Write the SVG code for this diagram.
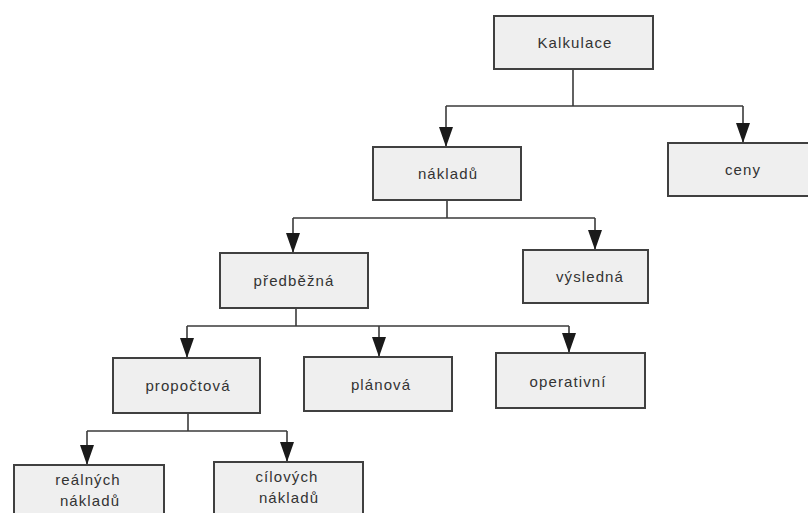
<svg xmlns="http://www.w3.org/2000/svg" width="808" height="513" viewBox="0 0 808 513">
<style>
.box{fill:#efefef;stroke:#404040;stroke-width:2}
.lbl{font-family:"Liberation Sans",Arial,sans-serif;font-size:15px;fill:#333;text-anchor:middle;letter-spacing:1.1px}
.con{fill:none;stroke:#3a3a3a;stroke-width:1.6}
</style>
<defs>
<marker id="arr" viewBox="0 0 20 14" refX="20" refY="7" markerWidth="20" markerHeight="14" markerUnits="userSpaceOnUse" orient="auto">
<path d="M0,0 L20,7 L0,14 z" fill="#1a1a1a"/>
</marker>
</defs>
<rect width="808" height="513" fill="#ffffff"/>
<g id="connectors">
<path class="con" d="M573,69 V106"/>
<path class="con" d="M446,106 H743"/>
<path class="con" d="M446,106 V147" marker-end="url(#arr)"/>
<path class="con" d="M743,106 V143" marker-end="url(#arr)"/>
<path class="con" d="M447,200 V218"/>
<path class="con" d="M293,218 H595"/>
<path class="con" d="M293,218 V253" marker-end="url(#arr)"/>
<path class="con" d="M595,218 V250" marker-end="url(#arr)"/>
<path class="con" d="M296,308 V326"/>
<path class="con" d="M187,326 H569"/>
<path class="con" d="M187,326 V358" marker-end="url(#arr)"/>
<path class="con" d="M379,326 V357" marker-end="url(#arr)"/>
<path class="con" d="M569,326 V353" marker-end="url(#arr)"/>
<path class="con" d="M188,413 V431"/>
<path class="con" d="M87,431 H287"/>
<path class="con" d="M87,431 V465" marker-end="url(#arr)"/>
<path class="con" d="M287,431 V462" marker-end="url(#arr)"/>
</g>
<g id="kalkulace"><rect class="box" x="494" y="16" width="159" height="53"/><text class="lbl" x="575" y="48">Kalkulace</text></g>
<g id="nakladu"><rect class="box" x="373" y="147" width="148" height="53"/><text class="lbl" x="448" y="179">nákladů</text></g>
<g id="ceny"><rect class="box" x="668" y="143" width="150" height="53"/><text class="lbl" x="743" y="175">ceny</text></g>
<g id="predbezna"><rect class="box" x="220" y="253" width="148" height="55"/><text class="lbl" x="294" y="286">předběžná</text></g>
<g id="vysledna"><rect class="box" x="523" y="250" width="125" height="53"/><text class="lbl" x="590" y="282">výsledná</text></g>
<g id="propoctova"><rect class="box" x="113" y="358" width="147" height="55"/><text class="lbl" x="188" y="391">propočtová</text></g>
<g id="planova"><rect class="box" x="304" y="357" width="148" height="54"/><text class="lbl" x="381" y="390">plánová</text></g>
<g id="operativni"><rect class="box" x="496" y="353" width="149" height="55"/><text class="lbl" x="568" y="387">operativní</text></g>
<g id="realnych"><rect class="box" x="14" y="465" width="150" height="60"/><text class="lbl" x="88" y="485">reálných</text><text class="lbl" x="90" y="506">nákladů</text></g>
<g id="cilovych"><rect class="box" x="214" y="462" width="149" height="60"/><text class="lbl" x="287" y="482">cílových</text><text class="lbl" x="289" y="503">nákladů</text></g>
</svg>
